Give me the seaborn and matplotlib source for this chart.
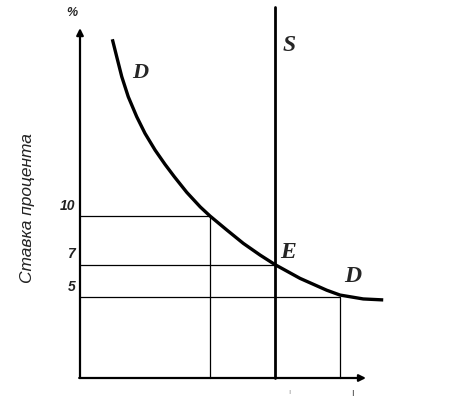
import matplotlib
matplotlib.use("Agg")
import matplotlib.pyplot as plt
import seaborn as sns
import pandas as pd

# Demand curve points (quantity, interest rate)
demand_q = [1.99, 2.26, 2.57, 2.97, 3.49, 4.0, 4.62, 5.23, 5.8, 6.57, 7.4, 8.0,
            9.03, 10.05, 11.08, 12.0, 13.54, 15.18, 16.0, 17.43, 18.66]
demand_r = [20.91, 19.83, 18.6, 17.36, 16.13, 15.1, 14.07, 13.19, 12.43, 11.46,
            10.56, 10.0, 9.14, 8.31, 7.59, 7.0, 6.15, 5.42, 5.12, 4.88, 4.82]
supply_q = 12.0
supply_top = 22.9
rate_ticks = [10, 7, 5]
rate_labels = ["10", "7", "5"]
qty_at_rate = [8.0, 12.0, 16.0]
y_label = "Ставка процента"
unit_label = "%"

sns.set_theme(style="white")
plt.rcParams["font.family"] = ["Liberation Sans", "DejaVu Sans"]

fig = plt.figure(figsize=(4.53, 3.97), dpi=100)
ax = fig.add_axes([0, 0, 1, 1])
# pixel mapping: px = 80 + 16.25*x ; py = 378 - 16.2*y
ax.set_xlim(-80 / 16.25, (453 - 80) / 16.25)
ax.set_ylim(-(397 - 378) / 16.2, 378 / 16.2)
ax.axis("off")

df = pd.DataFrame({"q": demand_q, "r": demand_r})
sns.lineplot(data=df, x="q", y="r", ax=ax, color="black", lw=2.4, sort=False,
             solid_capstyle="butt", solid_joinstyle="round")

# supply line
ax.plot([supply_q, supply_q], [0, supply_top], color="black", lw=2.0)

# guide lines
for r, q in zip(rate_ticks, qty_at_rate):
    ax.plot([0, q], [r, r], color="black", lw=0.9)
for r, q in zip(rate_ticks, qty_at_rate):
    if q != supply_q:
        ax.plot([q, q], [0, r], color="black", lw=0.9)

# axes with arrows
ax.annotate("", xy=(0, 21.6), xytext=(0, 0),
            arrowprops=dict(arrowstyle="-|>", color="black", lw=1.6,
                            mutation_scale=10, shrinkA=0, shrinkB=0))
ax.annotate("", xy=(17.6, 0), xytext=(-0.05, 0),
            arrowprops=dict(arrowstyle="-|>", color="black", lw=1.6,
                            mutation_scale=10, shrinkA=0, shrinkB=0))

# tick labels
for r, lab in zip(rate_ticks, rate_labels):
    ax.text(-0.3, r + 0.2, lab, ha="right", va="bottom", fontsize=10,
            style="italic", fontweight="bold", color="#222222")
ax.text(-0.5, 22.5, unit_label, ha="center", va="center", fontsize=9,
        style="italic", fontweight="bold")

ax.text(-3.25, 10.5, y_label, rotation=90, ha="center", va="center",
        fontsize=12.5, style="italic", color="#222222")

serif = ["Liberation Serif", "DejaVu Serif"]
ax.text(3.7, 18.8, "D", family=serif, fontsize=16, style="italic",
        fontweight="bold", ha="center", va="center")
ax.text(12.85, 20.5, "S", family=serif, fontsize=17, style="italic",
        fontweight="bold", ha="center", va="center")
ax.text(12.8, 7.75, "E", family=serif, fontsize=17, style="italic",
        fontweight="bold", ha="center", va="center")
ax.text(16.75, 6.25, "D", family=serif, fontsize=17, style="italic",
        fontweight="bold", ha="center", va="center")

# faint marks under the quantity axis
ax.text(12.9, -0.9, "ı", fontsize=6, color="#999999", ha="center", va="center")
ax.text(16.8, -0.9, "ı", fontsize=7, color="#444444", ha="center", va="center")

fig.savefig("out.png", dpi=100)
